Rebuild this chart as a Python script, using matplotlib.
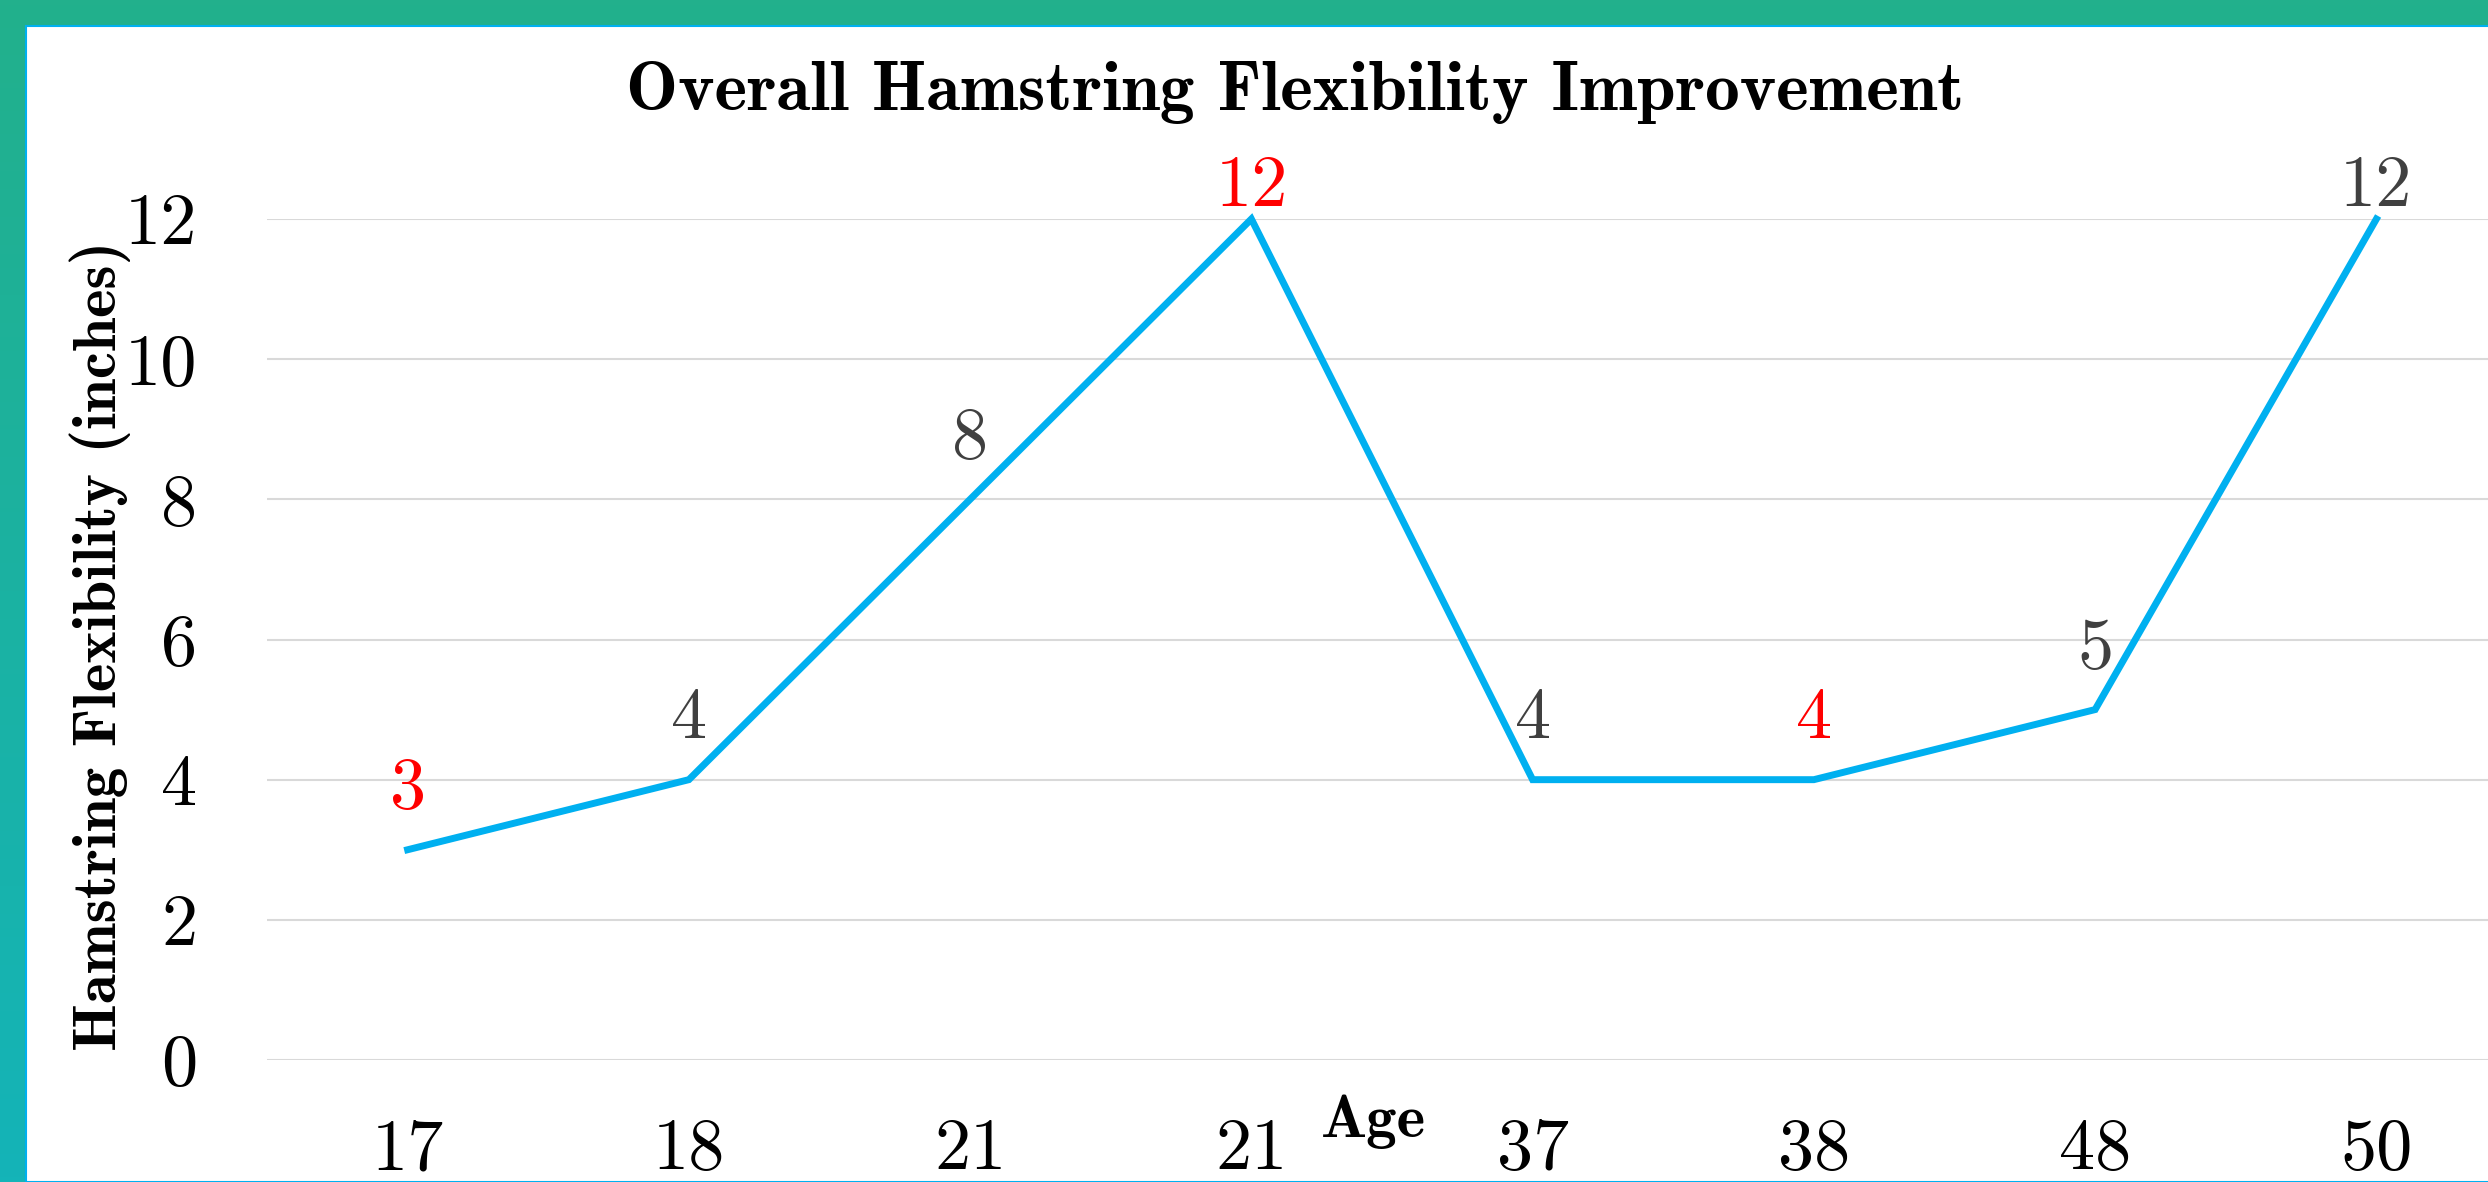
import numpy as np
import matplotlib
matplotlib.use("Agg")
import matplotlib.pyplot as plt
from matplotlib.patches import Rectangle
from matplotlib.colors import LinearSegmentedColormap

# data
ages = ["17", "18", "21", "21", "37", "38", "48", "50"]
flex = [3, 4, 8, 12, 4, 4, 5, 12]
label_colors = ["#FF0000", "#404040", "#404040", "#FF0000",
                "#404040", "#FF0000", "#404040", "#404040"]
yticks = [0, 2, 4, 6, 8, 10, 12]

W, H = 2488, 1182
fig = plt.figure(figsize=(W / 100, H / 100), dpi=100)
plt.rcParams['axes.unicode_minus'] = False

# teal gradient frame
bg = fig.add_axes([0, 0, 1, 1], zorder=0)
cmap = LinearSegmentedColormap.from_list("frame", ["#22B08C", "#14B4B8"])
bg.imshow(np.linspace(0, 1, 256).reshape(-1, 1), aspect="auto", cmap=cmap,
          extent=[0, 1, 0, 1], origin="upper")
bg.add_patch(Rectangle((26 / W, 0), 1, 1 - 26 / H, facecolor="white",
                       edgecolor="#00B0F0", linewidth=1.5))
bg.set_xlim(0, 1)
bg.set_ylim(0, 1)
bg.axis("off")

# main plot area
left = 267 / W
bottom = (H - 1060) / H
ax = fig.add_axes([left, bottom, 2250 / W, (1060 - 219) / H], zorder=1)
ax.patch.set_alpha(0)
x = np.arange(len(ages))
ax.plot(x, flex, color="#00B0F0", linewidth=5, clip_on=False, zorder=3,
        solid_joinstyle="miter")
ax.set_xlim(-0.5, len(ages) - 0.5)
ax.set_ylim(0, 12)
ax.set_yticks(yticks)
ax.set_yticklabels([str(v) for v in yticks], fontfamily="cmr10", fontsize=52)
ax.set_xticks(x)
ax.set_xticklabels(ages, fontfamily="cmr10", fontsize=52)
ax.tick_params(axis="y", length=0, pad=50)
ax.tick_params(axis="x", length=0, pad=42)
ax.grid(axis="y", color="#D9D9D9", linewidth=1.5)
ax.set_axisbelow(True)
for s in ax.spines.values():
    s.set_visible(False)

# data labels, Excel keeps the top ones inside the plot area
for i, (v, c) in enumerate(zip(flex, label_colors)):
    off = -1 if v == max(flex) else 20
    ax.annotate(str(v), (i, v), xytext=(0, off), textcoords="offset points",
                ha="center", va="bottom", fontfamily="cmr10", fontsize=52,
                color=c, annotation_clip=False)

fig.text(1295 / W, 1 - 92 / H, "Overall Hamstring Flexibility Improvement",
         fontfamily="cmb10", fontsize=50, ha="center", va="center")
fig.text(100 / W, 1 - 646 / H, "Hamstring Flexibility (inches)",
         fontfamily="cmb10", fontsize=44, ha="center", va="center",
         rotation=90)
fig.text(1373 / W, 1 - 1122 / H, "Age", fontfamily="cmb10", fontsize=44,
         ha="center", va="center")

fig.savefig("out.png", dpi=100)
